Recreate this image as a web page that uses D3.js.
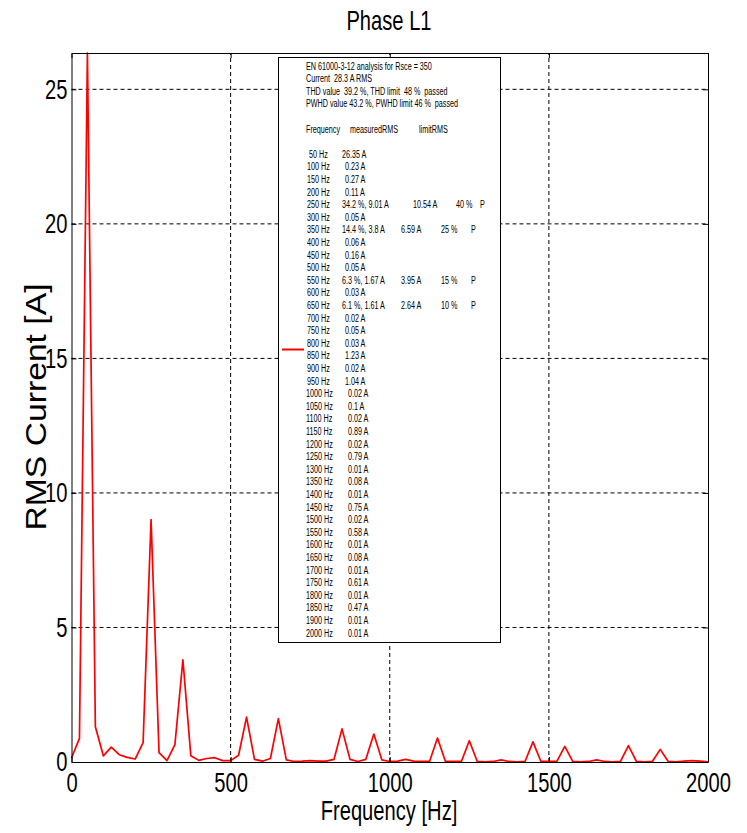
<!DOCTYPE html>
<html>
<head>
<meta charset="utf-8">
<script src="https://cdn.jsdelivr.net/npm/d3@7"></script>
<style>
  body { margin: 0; background: #fff; }
  svg { display: block; font-family: Arial, 'Liberation Sans', sans-serif; }
</style>
</head>
<body>
<svg id="chart" width="747" height="833"></svg>
<script>
// spectrum, sampled every 25 Hz
const frequencies = [
  0, 25, 50, 75, 100, 125, 150, 175, 200, 225, 250, 275, 300, 325, 350, 375,
  400, 425, 450, 475, 500, 525, 550, 575, 600, 625, 650, 675, 700, 725, 750, 775,
  800, 825, 850, 875, 900, 925, 950, 975, 1000, 1025, 1050, 1075, 1100, 1125, 1150, 1175,
  1200, 1225, 1250, 1275, 1300, 1325, 1350, 1375, 1400, 1425, 1450, 1475, 1500, 1525, 1550, 1575,
  1600, 1625, 1650, 1675, 1700, 1725, 1750, 1775, 1800, 1825, 1850, 1875, 1900, 1925, 1950, 1975, 2000
];
const rmsCurrent = [
  0.15, 0.88, 26.35, 1.31, 0.23, 0.55, 0.27, 0.17, 0.11, 0.72, 9.01, 0.35, 0.05, 0.65, 3.8, 0.23,
  0.06, 0.13, 0.16, 0.05, 0.05, 0.25, 1.67, 0.10, 0.03, 0.13, 1.61, 0.08, 0.02, 0.03, 0.05, 0.03,
  0.03, 0.10, 1.23, 0.10, 0.02, 0.10, 1.04, 0.08, 0.02, 0.03, 0.10, 0.03, 0.02, 0.02, 0.89, 0.02,
  0.02, 0.02, 0.79, 0.02, 0.01, 0.02, 0.08, 0.02, 0.01, 0.02, 0.75, 0.02, 0.02, 0.02, 0.58, 0.02,
  0.01, 0.02, 0.08, 0.02, 0.01, 0.02, 0.61, 0.02, 0.01, 0.02, 0.47, 0.02, 0.01, 0.03, 0.05, 0.03, 0.01
];

const xTicks = [0, 500, 1000, 1500, 2000];
const yTicks = [0, 5, 10, 15, 20, 25];

// legend text
const headerLines = [
  'EN 61000-3-12 analysis for Rsce = 350',
  'Current  28.3 A RMS',
  'THD value  39.2 %, THD limit  48 %  passed',
  'PWHD value 43.2 %, PWHD limit 46 %  passed'
];
const tableHeader = ['Frequency', 'measuredRMS', 'limitRMS'];
const harmonicFreqs = [
  50, 100, 150, 200, 250, 300, 350, 400, 450, 500, 550, 600, 650, 700, 750, 800, 850, 900, 950,
  1000, 1050, 1100, 1150, 1200, 1250, 1300, 1350, 1400, 1450, 1500, 1550, 1600, 1650, 1700, 1750,
  1800, 1850, 1900, 2000
];
const measuredRMS = [
  '26.35 A', '0.23 A', '0.27 A', '0.11 A', '34.2 %, 9.01 A', '0.05 A', '14.4 %, 3.8 A', '0.06 A',
  '0.16 A', '0.05 A', '6.3 %, 1.67 A', '0.03 A', '6.1 %, 1.61 A', '0.02 A', '0.05 A', '0.03 A',
  '1.23 A', '0.02 A', '1.04 A', '0.02 A', '0.1 A', '0.02 A', '0.89 A', '0.02 A', '0.79 A', '0.01 A',
  '0.08 A', '0.01 A', '0.75 A', '0.02 A', '0.58 A', '0.01 A', '0.08 A', '0.01 A', '0.61 A', '0.01 A',
  '0.47 A', '0.01 A', '0.01 A'
];
const limitFreqs = [250, 350, 550, 650];
const limitRMS = ['10.54 A', '6.59 A', '3.95 A', '2.64 A'];
const limitPct = ['40 %', '25 %', '15 %', '10 %'];
const limitFlag = ['P', 'P', 'P', 'P'];

(function() {
  let svg = d3.select('#chart');
  let margin = { left: 71.5, right: 39, top: 53, bottom: 71 };
  let width = 747, height = 833;

  let x = d3.scaleLinear().domain([0, 2000]).range([margin.left, width - margin.right]);
  let y = d3.scaleLinear().domain([0, 26.35]).range([height - margin.bottom, margin.top]);

  // MATLAB-ish narrow font: squeeze every text horizontally
  let squeeze = (sel, k) => {
    sel.each(function() {
      let len = this.getComputedTextLength();
      d3.select(this).attr('textLength', len * k).attr('lengthAdjust', 'spacingAndGlyphs');
    });
  };
  const K = 0.72;

  //
  // Grid
  //
  let grid = svg.append('g').attr('class', 'grid')
    .attr('stroke', '#000')
    .attr('stroke-width', 1)
    .attr('stroke-dasharray', '4,3');

  grid.selectAll('.vgrid')
    .data(xTicks.filter((t) => t > 0 && t < 2000))
    .enter().append('line')
      .attr('x1', (d) => x(d)).attr('x2', (d) => x(d))
      .attr('y1', y(0)).attr('y2', y.range()[1]);

  grid.selectAll('.hgrid')
    .data(yTicks.filter((t) => t > 0))
    .enter().append('line')
      .attr('x1', x(0)).attr('x2', x(2000))
      .attr('y1', (d) => y(d)).attr('y2', (d) => y(d));

  //
  // Spectrum line
  //
  let points = frequencies.map((f, i) => [f, rmsCurrent[i]]);
  svg.append('path')
    .datum(points)
    .attr('fill', 'none')
    .attr('stroke', '#ff0000')
    .attr('stroke-width', 1.7)
    .attr('stroke-linejoin', 'round')
    .attr('d', d3.line().x((d) => x(d[0])).y((d) => y(d[1])));

  //
  // Axes (ticks point inward, box all round)
  //
  let styleAxis = (g) => {
    g.attr('font-family', null).attr('font-size', null);
    g.selectAll('.domain').attr('stroke', '#000').attr('stroke-width', 1);
    g.selectAll('.tick line').attr('stroke', '#000');
    g.selectAll('.tick text').attr('fill', '#000').attr('font-size', 28);
  };

  let xAxis = svg.append('g')
    .attr('transform', `translate(0,${y(0)})`)
    .call(d3.axisBottom(x).tickValues(xTicks).tickFormat(d3.format('d'))
      .tickSizeInner(-5).tickSizeOuter(0).tickPadding(10))
    .call(styleAxis);

  let yAxis = svg.append('g')
    .attr('transform', `translate(${x(0)},0)`)
    .call(d3.axisLeft(y).tickValues(yTicks).tickFormat(d3.format('d'))
      .tickSizeInner(-5).tickSizeOuter(0).tickPadding(4))
    .call(styleAxis);

  svg.append('g')
    .attr('transform', `translate(0,${y.range()[1]})`)
    .call(d3.axisTop(x).tickValues(xTicks).tickFormat('').tickSizeInner(-5).tickSizeOuter(0))
    .call(styleAxis);

  svg.append('g')
    .attr('transform', `translate(${x(2000)},0)`)
    .call(d3.axisRight(y).tickValues(yTicks).tickFormat('').tickSizeInner(-5).tickSizeOuter(0))
    .call(styleAxis);

  squeeze(xAxis.selectAll('.tick text'), K);
  squeeze(yAxis.selectAll('.tick text'), K);

  //
  // Titles
  //
  let title = svg.append('text')
    .attr('x', 389).attr('y', 30)
    .attr('text-anchor', 'middle')
    .attr('font-size', 28)
    .text('Phase L1');

  let xLabel = svg.append('text')
    .attr('x', 389).attr('y', 820)
    .attr('text-anchor', 'middle')
    .attr('font-size', 28)
    .text('Frequency [Hz]');

  let yLabel = svg.append('text')
    .attr('transform', 'translate(46,407) rotate(-90)')
    .attr('text-anchor', 'middle')
    .attr('font-size', 30)
    .text('RMS Current [A]');

  squeeze(title, K);
  squeeze(xLabel, K);
  yLabel.attr('textLength', 247).attr('lengthAdjust', 'spacingAndGlyphs');

  //
  // Legend box
  //
  let lg = svg.append('g').attr('class', 'legend').attr('font-size', 10);
  lg.append('rect')
    .attr('x', 278.5).attr('y', 57.5)
    .attr('width', 222).attr('height', 585)
    .attr('fill', '#fff')
    .attr('stroke', '#000');

  let lineY = (i) => 69.5 + i * 12.6;

  lg.selectAll('.hdr')
    .data(headerLines)
    .enter().append('text')
      .attr('class', 'hdr')
      .attr('x', 306).attr('y', (d, i) => lineY(i))
      .attr('xml:space', 'preserve')
      .text((d) => d);

  let colX = [306, 350, 419];
  lg.selectAll('.colhdr')
    .data(tableHeader)
    .enter().append('text')
      .attr('class', 'colhdr')
      .attr('x', (d, i) => colX[i]).attr('y', lineY(5))
      .text((d) => d);

  let rows = lg.selectAll('.row')
    .data(harmonicFreqs)
    .enter().append('g')
      .attr('class', 'row')
      .attr('transform', (d, i) => `translate(0,${lineY(7 + i)})`);

  rows.append('text')
    .attr('class', 'freq')
    .attr('x', (d) => d < 100 ? 309 : (d < 1000 ? 307 : 306))
    .text((d) => `${d} Hz`);

  rows.append('text')
    .attr('class', 'meas')
    .attr('x', (d, i) => {
      if (d >= 1000) return 348;
      return measuredRMS[i].length > 6 ? 342 : 345;
    })
    .text((d, i) => measuredRMS[i]);

  let limited = rows.filter((d) => limitFreqs.includes(d));

  limited.append('text')
    .attr('class', 'lim')
    .attr('x', (d) => d === 250 ? 413 : 401)
    .text((d) => limitRMS[limitFreqs.indexOf(d)]);

  limited.append('text')
    .attr('class', 'pct')
    .attr('x', (d) => d === 250 ? 456 : 441)
    .text((d) => limitPct[limitFreqs.indexOf(d)]);

  limited.append('text')
    .attr('class', 'flag')
    .attr('x', (d) => d === 250 ? 480 : 471)
    .text((d) => limitFlag[limitFreqs.indexOf(d)]);

  squeeze(lg.selectAll('text'), K);

  // line sample
  lg.append('line')
    .attr('x1', 282).attr('x2', 304)
    .attr('y1', 349.5).attr('y2', 349.5)
    .attr('stroke', '#ff0000')
    .attr('stroke-width', 2);
})();
</script>
</body>
</html>
